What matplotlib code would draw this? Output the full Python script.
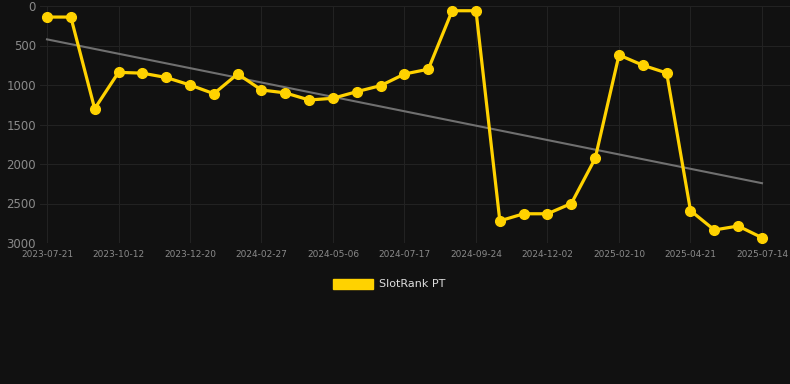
import matplotlib.pyplot as plt
import matplotlib.patches as mpatches
import numpy as np

# rank values (lower is better, axis inverted)
rank = [
    140, 140, 1300, 840, 850, 905, 1000, 1110, 860, 1063,
    1100, 1190, 1168, 1084, 1008, 861, 800, 60, 60, 2720,
    2630, 2630, 2500, 1930, 620, 750, 848, 2590, 2835, 2785,
    2933
]

tick_labels = [
    '2023-07-21', '2023-10-12', '2023-12-20', '2024-02-27', '2024-05-06',
    '2024-07-17', '2024-09-24', '2024-12-02', '2025-02-10', '2025-04-21',
    '2025-07-14'
]

BG = '#111111'
GOLD = '#FFD200'


def create_plot():
    fig = plt.figure(figsize=(7.9, 3.84), dpi=100, facecolor=BG)
    ax = fig.add_axes([40 / 790, 1 - 243 / 384, 750 / 790, 237 / 384])
    ax.set_facecolor(BG)

    x = np.arange(len(rank))

    # linear trend over the series
    slope, intercept = np.polyfit(x, rank, 1)
    ax.plot([x[0], x[-1]], [intercept, intercept + slope * x[-1]],
            color='#707070', linewidth=1.5, zorder=2)

    ax.plot(x, rank, color=GOLD, linewidth=2.3, marker='o', markersize=7,
            zorder=3, clip_on=False)

    ax.set_xlim(-7 / 23.83, 30 + 28 / 23.83)
    ax.set_ylim(3000, 0)

    ax.set_yticks([0, 500, 1000, 1500, 2000, 2500, 3000])
    ax.set_xticks(np.arange(0, len(rank), 3))
    ax.set_xticklabels(tick_labels)

    ax.tick_params(axis='y', colors='#8a8a8a', labelsize=8.5, length=0, pad=3)
    ax.tick_params(axis='x', colors='#8a8a8a', labelsize=6.5, length=0, pad=5)

    ax.grid(True, color='#222222', linewidth=0.8)
    ax.set_axisbelow(True)
    for s in ax.spines.values():
        s.set_visible(False)

    # legend
    handle = mpatches.Patch(facecolor=GOLD, edgecolor=GOLD, label='SlotRank PT')
    leg = fig.legend(handles=[handle], loc='center', bbox_to_anchor=(389 / 790, 1 - 284 / 384),
                     frameon=False, fontsize=8, handlelength=3.6, handleheight=1.0,
                     handletextpad=0.5)
    for t in leg.get_texts():
        t.set_color('#dddddd')

    fig.savefig('out.png', dpi=100, facecolor=BG)


if __name__ == "__main__":
    create_plot()
